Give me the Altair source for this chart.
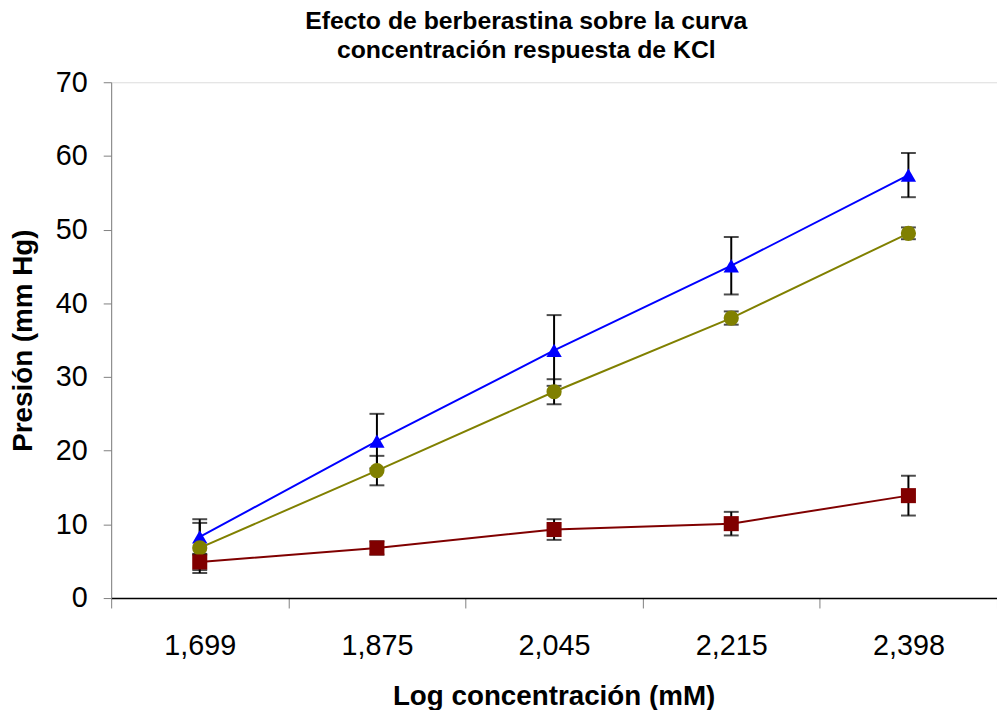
import altair as alt
import pandas as pd

# ---- data ----
categories = ["1,699", "1,875", "2,045", "2,215", "2,398"]
series_names = ["Serie triángulo", "Serie círculo", "Serie cuadrado"]
blue_vals = [8.3, 21.3, 33.6, 45.1, 57.4]
blue_err = [2.4, 3.7, 4.8, 3.9, 3.0]
olive_vals = [6.8, 17.3, 28.0, 38.0, 49.5]
olive_err = [3.4, 2.0, 1.7, 0.9, 0.8]
red_vals = [4.9, 6.8, 9.3, 10.1, 13.9]
red_err = [1.1, 0.9, 1.4, 1.6, 2.7]
colors = ["#0000FF", "#808000", "#800000"]
shapes = ["triangle-up", "circle", "square"]
marker_sizes = [240, 230, 150]

rows = []
for name, vals, errs in zip(series_names,
                            [blue_vals, olive_vals, red_vals],
                            [blue_err, olive_err, red_err]):
    for c, v, e in zip(categories, vals, errs):
        rows.append({"cat": c, "serie": name, "v": v, "lo": v - e, "hi": v + e})
df = pd.DataFrame(rows)

FONT = "Liberation Sans"

xscale = alt.Scale(type="band", domain=categories, paddingInner=0, paddingOuter=0)
yscale = alt.Scale(domain=[0, 70], nice=False)
cscale = alt.Scale(domain=series_names, range=colors)
sscale = alt.Scale(domain=series_names, range=shapes)
zscale = alt.Scale(domain=series_names, range=marker_sizes)

x_axis = alt.Axis(
    title="Log concentración (mM)", labelAngle=0, tickBand="extent",
    tickSize=10, tickColor="#808080", domainColor="#000000", domainWidth=1.5,
    labelFont=FONT, labelFontSize=29, labelColor="#000000", labelPadding=24,
    titleFont=FONT, titleFontSize=28, titleFontWeight="bold", titleColor="#000000",
    titleBaseline="middle", titleY=99, titleX=446, grid=False,
)
y_axis = alt.Axis(
    title="Presión (mm Hg)", values=list(range(0, 71, 10)), tickSize=8,
    tickColor="#808080", domainColor="#808080",
    labelFont=FONT, labelFontSize=29, labelColor="#000000", labelPadding=16,
    titleFont=FONT, titleFontSize=28, titleFontWeight="bold", titleColor="#000000",
    titleBaseline="middle", titleX=-88, titleY=260, grid=False,
)

base = alt.Chart(df)
X = alt.X("cat:N", scale=xscale, axis=x_axis, sort=categories, bandPosition=0.5)

err_rule = base.mark_rule(color="black", strokeWidth=2).encode(
    x=X, y=alt.Y("lo:Q", scale=yscale, axis=y_axis), y2="hi:Q")
cap_lo = base.mark_tick(color="black", size=15, thickness=2, orient="horizontal").encode(
    x=X, y=alt.Y("lo:Q", scale=yscale, axis=y_axis))
cap_hi = base.mark_tick(color="black", size=15, thickness=2, orient="horizontal").encode(
    x=X, y=alt.Y("hi:Q", scale=yscale, axis=y_axis))
lines = base.mark_line(strokeWidth=2).encode(
    x=X, y=alt.Y("v:Q", scale=yscale, axis=y_axis),
    color=alt.Color("serie:N", scale=cscale, legend=None), detail="serie:N")
points = base.mark_point(filled=True, opacity=1).encode(
    x=X, y=alt.Y("v:Q", scale=yscale, axis=y_axis),
    color=alt.Color("serie:N", scale=cscale, legend=None),
    shape=alt.Shape("serie:N", scale=sscale, legend=None),
    size=alt.Size("serie:N", scale=zscale, legend=None))

chart = alt.layer(err_rule, cap_lo, cap_hi, lines, points).properties(
    width=893, height=520,
    autosize=alt.AutoSizeParams(type="none"),
    padding={"left": 104, "top": 72, "right": 0, "bottom": 110},
    title=alt.TitleParams(
        text=["Efecto de berberastina sobre la curva", "concentración respuesta de KCl"],
        font=FONT, fontSize=25, fontWeight="bold", color="#000000",
        anchor="middle", dx=-28, dy=-1, lineHeight=30, offset=4),
).configure_view(stroke=None).configure(background="white")

chart.save("out.html", embed_options={"renderer": "svg", "actions": False})
